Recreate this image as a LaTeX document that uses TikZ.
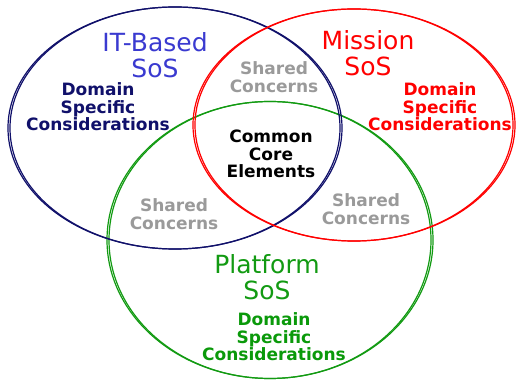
\documentclass[tikz,border=0pt]{standalone}
\usepackage{fontspec}
\setmainfont{DejaVu Sans}
\definecolor{navy}{HTML}{10106A}
\definecolor{itblue}{HTML}{3A3AD0}
\definecolor{rred}{HTML}{FF0000}
\definecolor{ggreen}{HTML}{129A12}
\definecolor{gtext}{HTML}{0A990A}
\definecolor{sgray}{HTML}{9A9A9A}
\tikzset{
  ring/.style={line width=1.2pt},
  title/.style={align=center, font=\fontsize{25}{26.5}\selectfont, inner sep=0pt},
  bodytxt/.style={align=center, font=\fontsize{17}{17.5}\selectfont\bfseries, inner sep=0pt},
}
\begin{document}
\begin{tikzpicture}[x=1pt,y=1pt]
\useasboundingbox (0,0) rectangle (516,380);
% ellipses
\draw[ring, ggreen] (270,140) ellipse [x radius=163, y radius=138.5];
\draw[ring, ggreen] (270,140) ellipse [x radius=161, y radius=138.5];
\draw[ring, navy] (175,252) ellipse [x radius=167, y radius=121];
\draw[ring, navy] (175,252) ellipse [x radius=165, y radius=121];
\draw[ring, rred] (354,255) ellipse [x radius=161, y radius=116];
\draw[ring, rred] (354,255) ellipse [x radius=159, y radius=116];
% titles
\node[title, text=itblue] (itsos) at (155,325) {IT-Based\\SoS};
\node[title, text=rred] (msos) at (368,327) {Mission\\SoS};
\node[title, text=ggreen] (psos) at (267,103) {Platform\\SoS};
% domain texts
\node[bodytxt, text=navy] (dsit) at (98,273) {Domain\\Specific\\Considerations};
\node[bodytxt, text=rred] (dsm) at (440,273) {Domain\\Specific\\Considerations};
\node[bodytxt, text=gtext] (dsp) at (274,43) {Domain\\Specific\\Considerations};
% shared concerns
\node[bodytxt, text=sgray] (sc1) at (274,303) {Shared\\Concerns};
\node[bodytxt, text=sgray] (sc2) at (174,166) {Shared\\Concerns};
\node[bodytxt, text=sgray] (sc3) at (366,171) {Shared\\Concerns};
% core
\node[bodytxt, text=black] (core) at (271,226) {Common\\Core\\Elements};
\end{tikzpicture}
\end{document}
